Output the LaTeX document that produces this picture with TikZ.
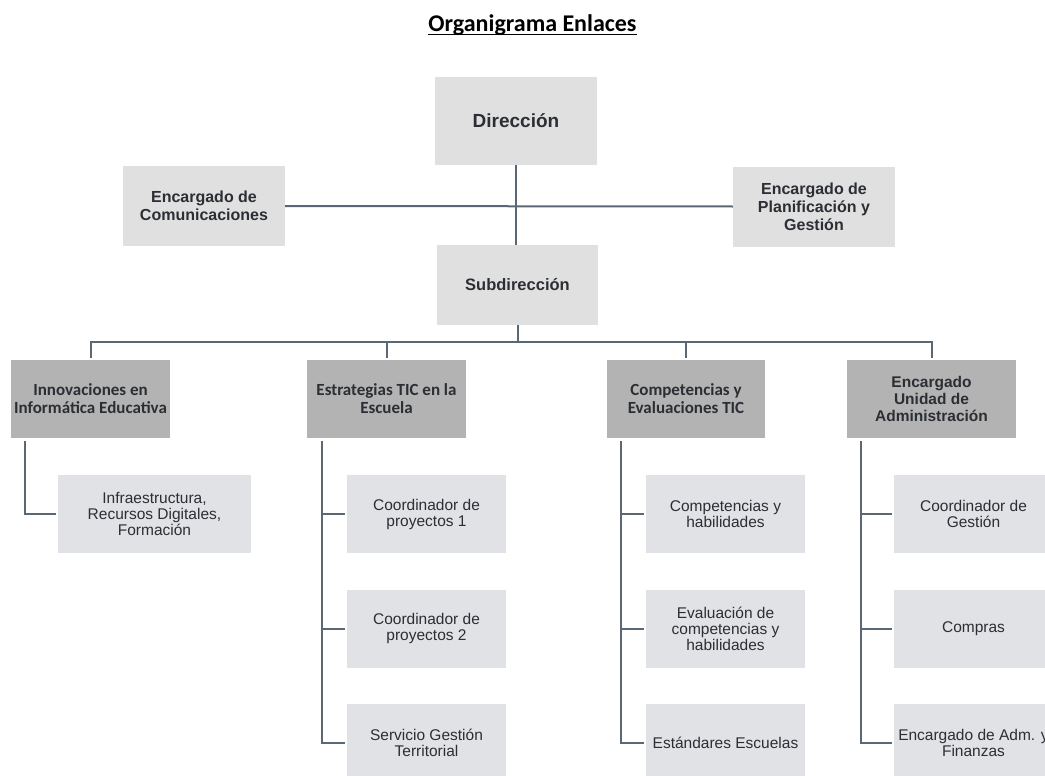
\documentclass[tikz,border=0pt]{standalone}
\usepackage{fontspec}
\setmainfont{Liberation Sans}
\newfontfamily\carlito{Carlito}
\definecolor{topgray}{HTML}{E0E0E0}
\definecolor{midgray}{HTML}{B3B3B3}
\definecolor{leafgray}{HTML}{E1E2E5}
\definecolor{linecol}{HTML}{5A6876}
\definecolor{txt}{HTML}{2B2E33}
\tikzset{
  box/.style={inner sep=0pt, align=center, text=txt},
  topbox/.style={box, fill=topgray, minimum width=162pt, minimum height=80pt,
    font=\bfseries\fontsize{16}{18}\selectfont},
  midbox/.style={box, fill=midgray, minimum width=159pt, minimum height=78pt,
    font=\carlito\bfseries\fontsize{17}{18}\selectfont},
  leafbox/.style={box, fill=leafgray, minimum width=159pt, minimum height=78pt,
    font=\fontsize{15.5}{16}\selectfont},
  conn/.style={draw=linecol, line width=2pt},
}
\begin{document}
\begin{tikzpicture}[x=1pt, y=-1pt]
\useasboundingbox (0,0) rectangle (1045,776);
% title
\node[inner sep=0pt, anchor=base, font=\carlito\bfseries\fontsize{24}{28}\selectfont] (title) at (532.5,32) {Organigrama Enlaces};
\draw[line width=1.4pt] ([yshift=-2.6pt]title.base west) -- ([yshift=-2.6pt]title.base east);
% top level
\node[topbox, minimum height=88pt, font=\bfseries\fontsize{19}{21}\selectfont] (dir) at (516,121) {Dirección};
\node[topbox] (comm) at (204,206) {Encargado de\\Comunicaciones};
\node[topbox] (plan) at (814,206.5) {Encargado de\\Planificación y\\Gestión};
\node[topbox, minimum width=161pt, font=\bfseries\fontsize{16.5}{18}\selectfont] (sub) at (517.5,285) {Subdirección};
% level 2
\node[midbox] (innov) at (90.5,399) {Innovaciones en\\Informática Educativa};
\node[midbox] (estr) at (386.5,399) {Estrategias TIC en la\\Escuela};
\node[midbox, minimum width=158pt] (comp) at (686,399) {Competencias y\\Evaluaciones TIC};
\node[midbox, minimum width=169pt, font=\bfseries\fontsize{15.5}{17}\selectfont] (adm) at (931.5,399) {Encargado\\Unidad de\\Administración};
% leaves
\node[leafbox, minimum width=193pt] (l11) at (154.5,514) {Infraestructura,\\Recursos Digitales,\\Formación};
\node[leafbox] (l21) at (426.5,514) {Coordinador de\\proyectos 1};
\node[leafbox] (l22) at (426.5,628.5) {Coordinador de\\proyectos 2};
\node[leafbox] (l23) at (426.5,743) {Servicio Gestión\\Territorial};
\node[leafbox] (l31) at (725.5,514) {Competencias y\\habilidades};
\node[leafbox] (l32) at (725.5,628.5) {Evaluación de\\competencias y\\habilidades};
\node[leafbox] (l33) at (725.5,743) {Estándares Escuelas};
\node[leafbox] (l41) at (973.5,514) {Coordinador de\\Gestión};
\node[leafbox] (l42) at (973.5,628.5) {Compras};
\node[leafbox] (l43) at (973.5,743) {Encargado de Adm. y\\Finanzas};
% top connectors
\draw[conn] (dir.south) -- (dir.south |- sub.north);
\draw[conn] (comm.east) -- (plan.west);
\coordinate (bar) at (0,342);
\draw[conn] (sub.south) -- (sub.south |- bar);
\draw[conn, line join=miter] ([yshift=2pt]innov.north) -- (innov.north |- bar) -- (adm.north |- bar) -- ([yshift=2pt]adm.north);
\draw[conn] (estr.north |- bar) -- ([yshift=2pt]estr.north);
\draw[conn] (comp.north |- bar) -- ([yshift=2pt]comp.north);
% branches
\coordinate (s1) at ([xshift=14.5pt, yshift=-3pt]innov.south west);
\coordinate (s2) at ([xshift=14.7pt, yshift=-3pt]estr.south west);
\coordinate (s3) at ([xshift=14.3pt, yshift=-3pt]comp.south west);
\coordinate (s4) at ([xshift=14.5pt, yshift=-3pt]adm.south west);
\draw[conn, line join=miter, shorten >=2pt] (s1) |- (l11.west);
\foreach \l in {l21,l22,l23} \draw[conn, line join=miter, shorten >=2pt] (s2) |- (\l.west);
\foreach \l in {l31,l32,l33} \draw[conn, line join=miter, shorten >=2pt] (s3) |- (\l.west);
\foreach \l in {l41,l42,l43} \draw[conn, line join=miter, shorten >=2pt] (s4) |- (\l.west);
\end{tikzpicture}
\end{document}
